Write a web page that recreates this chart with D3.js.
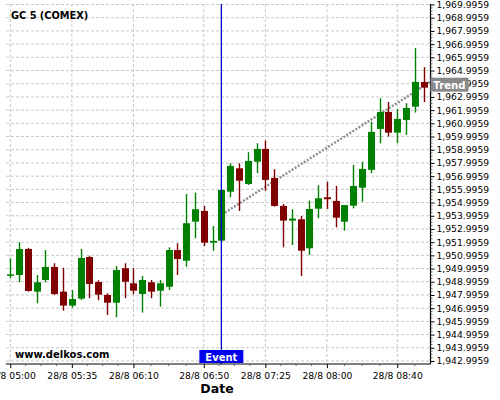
<!DOCTYPE html>
<html><head><meta charset="utf-8">
<script src="https://cdn.jsdelivr.net/npm/d3@7"></script>
<style>body{margin:0;background:#fff}svg{display:block;font-family:"DejaVu Sans",sans-serif}</style>
</head><body>
<svg id="c" width="500" height="400"></svg>
<script>
const title = "GC 5 (COMEX)";
const day = "28/8";
const times = ["05:00","05:05","05:10","05:15","05:20","05:25","05:30","05:35","05:40","05:45","05:50","05:55",
"06:00","06:05","06:10","06:15","06:20","06:25","06:30","06:35","06:40","06:45","06:50","06:55",
"07:00","07:05","07:10","07:15","07:20","07:25","07:30","07:35","07:40","07:45","07:50","07:55",
"08:00","08:05","08:10","08:15","08:20","08:25","08:30","08:35","08:40","08:45","08:50","08:55"];
const open = [1949.46,1949.51,1951.48,1948.25,1949.13,1950.12,1948.25,1947.19,1947.72,1950.87,1948.98,1948.00,
1947.41,1950.02,1948.88,1948.07,1948.96,1948.32,1948.62,1951.40,1950.59,1953.55,1954.36,1951.96,
1952.11,1955.82,1957.59,1956.40,1958.09,1959.06,1956.86,1954.74,1953.63,1953.73,1951.53,1954.53,
1955.40,1955.12,1953.55,1954.76,1956.12,1957.47,1960.57,1961.86,1960.29,1961.25,1962.26,1964.13];
const high = [1950.78,1951.99,1951.56,1949.51,1951.40,1950.40,1950.06,1948.37,1951.48,1950.97,1949.11,1948.12,
1950.19,1950.40,1950.02,1949.44,1949.13,1949.13,1951.61,1951.91,1955.65,1955.75,1954.74,1953.22,
1956.03,1957.97,1957.97,1958.81,1959.49,1959.69,1957.52,1954.89,1954.49,1953.98,1955.14,1956.31,
1956.58,1956.25,1954.81,1957.84,1958.09,1961.12,1962.90,1962.62,1962.09,1962.52,1966.69,1965.25];
const low = [1949.26,1948.96,1948.25,1947.37,1948.96,1948.00,1946.81,1947.03,1947.62,1947.75,1947.60,1946.48,
1946.31,1947.75,1948.05,1946.66,1947.75,1947.11,1948.37,1949.51,1950.14,1952.29,1951.71,1951.35,
1952.01,1955.40,1954.36,1956.33,1957.22,1955.90,1954.69,1951.61,1951.78,1949.44,1951.03,1953.81,
1954.51,1953.12,1952.87,1954.56,1955.06,1957.22,1959.49,1959.99,1959.49,1960.12,1961.81,1962.60];
const close = [1949.56,1951.48,1948.30,1948.96,1950.12,1948.07,1947.19,1947.69,1950.80,1948.83,1948.02,1947.41,
1949.89,1949.00,1948.32,1949.13,1948.25,1948.88,1951.40,1950.72,1953.43,1954.49,1951.96,1952.09,
1955.95,1957.77,1956.65,1958.15,1959.06,1956.71,1954.74,1953.63,1953.78,1951.35,1954.51,1955.32,
1955.25,1953.85,1954.81,1956.25,1957.54,1960.35,1961.86,1960.29,1961.33,1962.16,1964.13,1963.70];
const xTickTimes = ["05:00","05:35","06:10","06:50","07:25","08:00","08:40"];
const yTickValues = d3.range(0, 28).map(k => 1942.9959 + k);
const eventTime = "07:00";
const eventLabel = "Event";
const trendTimes = ["07:02","08:59"];
const trendValues = [1954.23, 1964.15];
const trendLabel = "Trend";
const watermark = "www.delkos.com";
const xTitle = "Date";

const parse = t => { const [h,m] = t.split(":").map(Number); return new Date(2023,7,28,h,m); };
const svg = d3.select("#c");
const L = 6, R = 430.5, T = 4, B = 364;
const x = d3.scaleTime().domain([new Date(2023,7,28,4,57,34), new Date(2023,7,28,8,58,54)]).range([L, R]);
const y = d3.scaleLinear().domain([1942.7686, 1970.0338]).range([B, T]);

const grid = svg.append("g");
grid.selectAll("line.h").data(yTickValues).join("line")
  .attr("x1", L).attr("x2", R).attr("y1", d => y(d)).attr("y2", d => y(d))
  .attr("stroke", "#c8c8c8").attr("stroke-dasharray", "3,2");
grid.selectAll("line.v").data(xTickTimes).join("line")
  .attr("x1", d => x(parse(d))).attr("x2", d => x(parse(d))).attr("y1", T).attr("y2", B)
  .attr("stroke", "#c8c8c8").attr("stroke-dasharray", "3,2");

// trend
svg.append("line")
  .attr("x1", x(parse(trendTimes[0]))).attr("y1", y(trendValues[0]))
  .attr("x2", x(parse(trendTimes[1]))).attr("y2", y(trendValues[1]))
  .attr("stroke", "#8c8c8c").attr("stroke-width", 2.4).attr("stroke-dasharray", "2,1.6");

const data = times.map((t,i) => ({t: parse(t), o: open[i], h: high[i], l: low[i], c: close[i]}));
const bw = 7;
const col = d => d.c >= d.o ? "#008000" : "#800000";
const cg = svg.append("g");
cg.selectAll("line").data(data).join("line")
  .attr("x1", d => Math.round(x(d.t)) + 0.5).attr("x2", d => Math.round(x(d.t)) + 0.5)
  .attr("y1", d => y(d.h)).attr("y2", d => y(d.l))
  .attr("stroke", col).attr("stroke-width", 1.4);
cg.selectAll("rect").data(data).join("rect")
  .attr("x", d => Math.round(x(d.t)) + 0.5 - bw/2).attr("width", bw)
  .attr("y", d => y(Math.max(d.o, d.c)))
  .attr("height", d => Math.max(1.5, Math.abs(y(d.o) - y(d.c))))
  .attr("fill", col);

// event line
const ex = x(parse(eventTime));
svg.append("line").attr("x1", ex).attr("x2", ex).attr("y1", T).attr("y2", B)
  .attr("stroke", "#0000cc").attr("stroke-width", 1.3);

// axes
const yAxis = d3.axisRight(y).tickValues(yTickValues).tickFormat(d3.format(",.4f")).tickSize(4).tickPadding(2);
const ya = svg.append("g").attr("transform", `translate(${R},0)`).call(yAxis);
ya.select(".domain").attr("stroke", "#000").attr("stroke-width", 1.2).attr("d", `M0,${T}V${B}`);
ya.selectAll("text").attr("font-size", "9.2px").attr("font-family", "DejaVu Sans").attr("fill", "#000");
const yMinor = d3.range(0, 27*4).map(k => 1942.9959 + k/4).filter((d,i) => i % 4 !== 0);
svg.append("g").selectAll("line").data(yMinor).join("line")
  .attr("x1", R).attr("x2", R + 2).attr("y1", d => y(d)).attr("y2", d => y(d)).attr("stroke", "#666");

const xAxis = d3.axisBottom(x).tickValues(xTickTimes.map(parse))
  .tickFormat(d => day + " " + d3.timeFormat("%H:%M")(d)).tickSize(4).tickPadding(4);
const xa = svg.append("g").attr("transform", `translate(0,${B})`).call(xAxis);
xa.select(".domain").attr("stroke", "#000").attr("stroke-width", 1.2).attr("d", `M${L},0H${R}`);
xa.selectAll("text").attr("font-size", "9.2px").attr("font-family", "DejaVu Sans").attr("fill", "#000");
const xMinor = [];
const maj = xTickTimes.map(parse);
for (let i = 0; i < maj.length - 1; i++) for (let k = 1; k < 4; k++)
  xMinor.push(new Date(+maj[i] + (maj[i+1] - maj[i]) * k / 4));
xMinor.push(parse("08:50"));
svg.append("g").selectAll("line").data(xMinor).join("line")
  .attr("x1", d => x(d)).attr("x2", d => x(d)).attr("y1", B).attr("y2", B + 2).attr("stroke", "#666");

// labels
svg.append("text").attr("x", 11).attr("y", 19).attr("font-size", "9.8px").attr("font-weight", "bold").text(title);
svg.append("text").attr("x", 15).attr("y", 357.5).attr("font-size", "10px").attr("font-weight", "bold").text(watermark);
svg.append("text").attr("x", 217).attr("y", 393).attr("text-anchor", "middle").attr("font-size", "12.5px").attr("font-weight", "bold").text(xTitle);

// event box
svg.append("rect").attr("x", ex - 22).attr("y", 350).attr("width", 44).attr("height", 13).attr("fill", "#0000ee");
svg.append("text").attr("x", ex).attr("y", 360.5).attr("text-anchor", "middle").attr("fill", "#fff")
  .attr("font-size", "10px").attr("font-weight", "bold").text(eventLabel);

// trend box
const ty = y(trendValues[1]);
svg.append("rect").attr("x", R).attr("y", ty - 4).attr("width", 38).attr("height", 14).attr("fill", "#888");
svg.append("text").attr("x", R + 19).attr("y", ty + 7).attr("text-anchor", "middle").attr("fill", "#fff")
  .attr("font-size", "10.2px").attr("font-weight", "bold").text(trendLabel);
</script>
</body></html>
